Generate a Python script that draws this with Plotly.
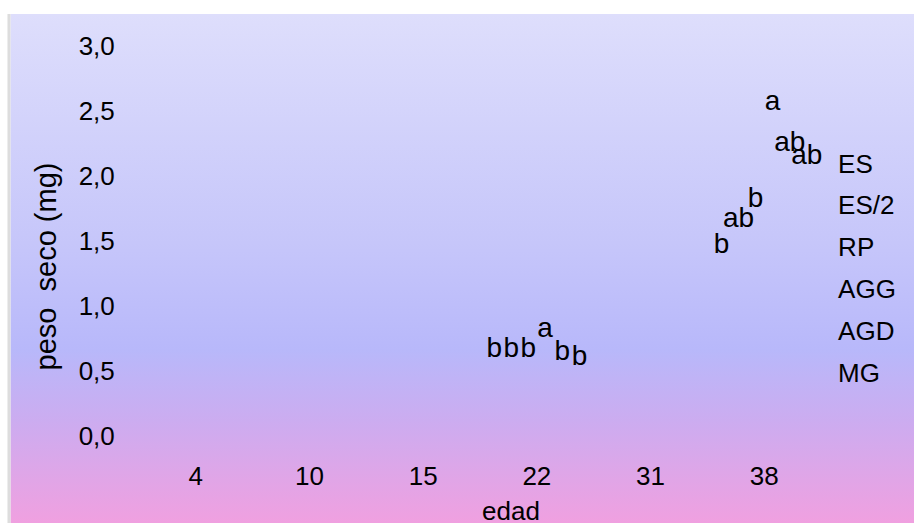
import base64
import plotly.graph_objects as go

# ---------------- data ----------------
categories = ["4", "10", "15", "22", "31", "38"]
series_names = ["ES", "ES/2", "RP", "AGG", "AGD", "MG"]

es_values = [None, None, None, 0.54, None, 1.34]
es2_values = [None, None, None, 0.54, None, 1.54]
rp_values = [None, None, None, 0.54, None, 1.69]
agg_values = [None, None, None, 0.695, None, 2.44]
agd_values = [None, None, None, 0.515, None, 2.12]
mg_values = [None, None, None, 0.477, None, 2.02]

es_labels = ["", "", "", "b", "", "b"]
es2_labels = ["", "", "", "b", "", "ab"]
rp_labels = ["", "", "", "b", "", "b"]
agg_labels = ["", "", "", "a", "", "a"]
agd_labels = ["", "", "", "b", "", "ab"]
mg_labels = ["", "", "", "b", "", "ab"]

y_ticks = [0, 0.5, 1, 1.5, 2, 2.5, 3]

series_values = [es_values, es2_values, rp_values, agg_values, agd_values, mg_values]
series_labels = [es_labels, es2_labels, rp_labels, agg_labels, agd_labels, mg_labels]

# ---------------- layout geometry ----------------
# page body margin is removed by the post script, so figure px == page px
W, H = 914, 523
plot_left, plot_right, plot_top, plot_bottom = 138.6, 820.9, 30, 453
L = plot_left
R = W - plot_right
T = plot_top
B = H - plot_bottom
pw = W - L - R
ph = H - T - B


def px_x(px):
    return (px - L) / pw


def px_y(py):
    return ((H - B) - py) / ph


zero_px = 436
unit_px = 130
y_lo = -(plot_bottom - zero_px) / unit_px
y_hi = (zero_px - plot_top) / unit_px

FONT = "Arial, Liberation Sans, sans-serif"

fig = go.Figure()
for name, vals, labs in zip(series_names, series_values, series_labels):
    fig.add_trace(go.Bar(
        name=name,
        x=categories,
        y=vals,
        text=labs,
        textposition="outside",
        constraintext="none",
        cliponaxis=False,
        outsidetextfont=dict(family=FONT, size=28, color="black"),
        marker=dict(color="rgba(0,0,0,0)", line=dict(width=0)),
        legendgroup=name,
        hoverinfo="skip",
    ))

# gradient background panel
svg = (
    '<svg xmlns="http://www.w3.org/2000/svg" width="904" height="509" '
    'viewBox="0 0 904 509" preserveAspectRatio="none">'
    '<defs><linearGradient id="g" x1="0" y1="0" x2="0" y2="1">'
    '<stop offset="0" stop-color="rgb(222,222,252)"/>'
    '<stop offset="0.45" stop-color="rgb(198,198,250)"/>'
    '<stop offset="0.66" stop-color="rgb(184,184,250)"/>'
    '<stop offset="0.8" stop-color="rgb(204,172,240)"/>'
    '<stop offset="1" stop-color="rgb(240,160,224)"/>'
    '</linearGradient></defs>'
    '<rect x="0" y="0" width="904" height="509" fill="url(#g)"/></svg>'
)
src = "data:image/svg+xml;base64," + base64.b64encode(svg.encode()).decode()

fig.update_layout(
    width=W, height=H,
    margin=dict(l=L, r=R, t=T, b=B, pad=0),
    paper_bgcolor="white",
    plot_bgcolor="rgba(0,0,0,0)",
    separators=",.",
    barmode="group",
    bargap=0.1,
    bargroupgap=0,
    font=dict(family=FONT, size=26, color="black"),
    showlegend=True,
    legend=dict(
        x=px_x(798), y=px_y(139), xanchor="left", yanchor="top",
        bgcolor="rgba(0,0,0,0)", borderwidth=0,
        font=dict(family=FONT, size=26, color="black"),
        itemwidth=30, tracegroupgap=5,
    ),
    images=[dict(
        source=src, xref="paper", yref="paper",
        x=px_x(10), y=px_y(14),
        sizex=px_x(914) - px_x(10), sizey=px_y(14) - px_y(523),
        xanchor="left", yanchor="top", sizing="stretch", layer="below",
    )],
    shapes=[dict(
        type="line", xref="paper", yref="paper",
        x0=px_x(8.5), x1=px_x(8.5), y0=px_y(14), y1=px_y(523),
        line=dict(color="rgba(120,120,120,0.25)", width=3),
    )],
    xaxis=dict(
        type="category", categoryorder="array", categoryarray=categories,
        showgrid=False, zeroline=False, showline=False,
        ticks="outside", ticklen=0, tickcolor="rgba(0,0,0,0)",
        tickfont=dict(family=FONT, size=26, color="black"),
    ),
    yaxis=dict(
        range=[y_lo, y_hi], tickvals=y_ticks, tickformat=".1f",
        showgrid=False, zeroline=False, showline=False,
        ticks="outside", ticklen=18, tickcolor="rgba(0,0,0,0)",
        tickfont=dict(family=FONT, size=26, color="black"),
    ),
    annotations=[
        dict(text="peso  seco (mg)", xref="paper", yref="paper",
             x=px_x(46), y=px_y(266), xanchor="center", yanchor="middle",
             textangle=-90, showarrow=False,
             font=dict(family=FONT, size=29, color="black")),
        dict(text="edad", xref="paper", yref="paper",
             x=px_x(511), y=px_y(511), xanchor="center", yanchor="middle",
             showarrow=False,
             font=dict(family=FONT, size=26, color="black")),
    ],
)

fig.write_html(
    "out.html",
    config={"displayModeBar": False},
    post_script="document.body.style.margin='0';document.body.style.overflow='hidden';",
)
